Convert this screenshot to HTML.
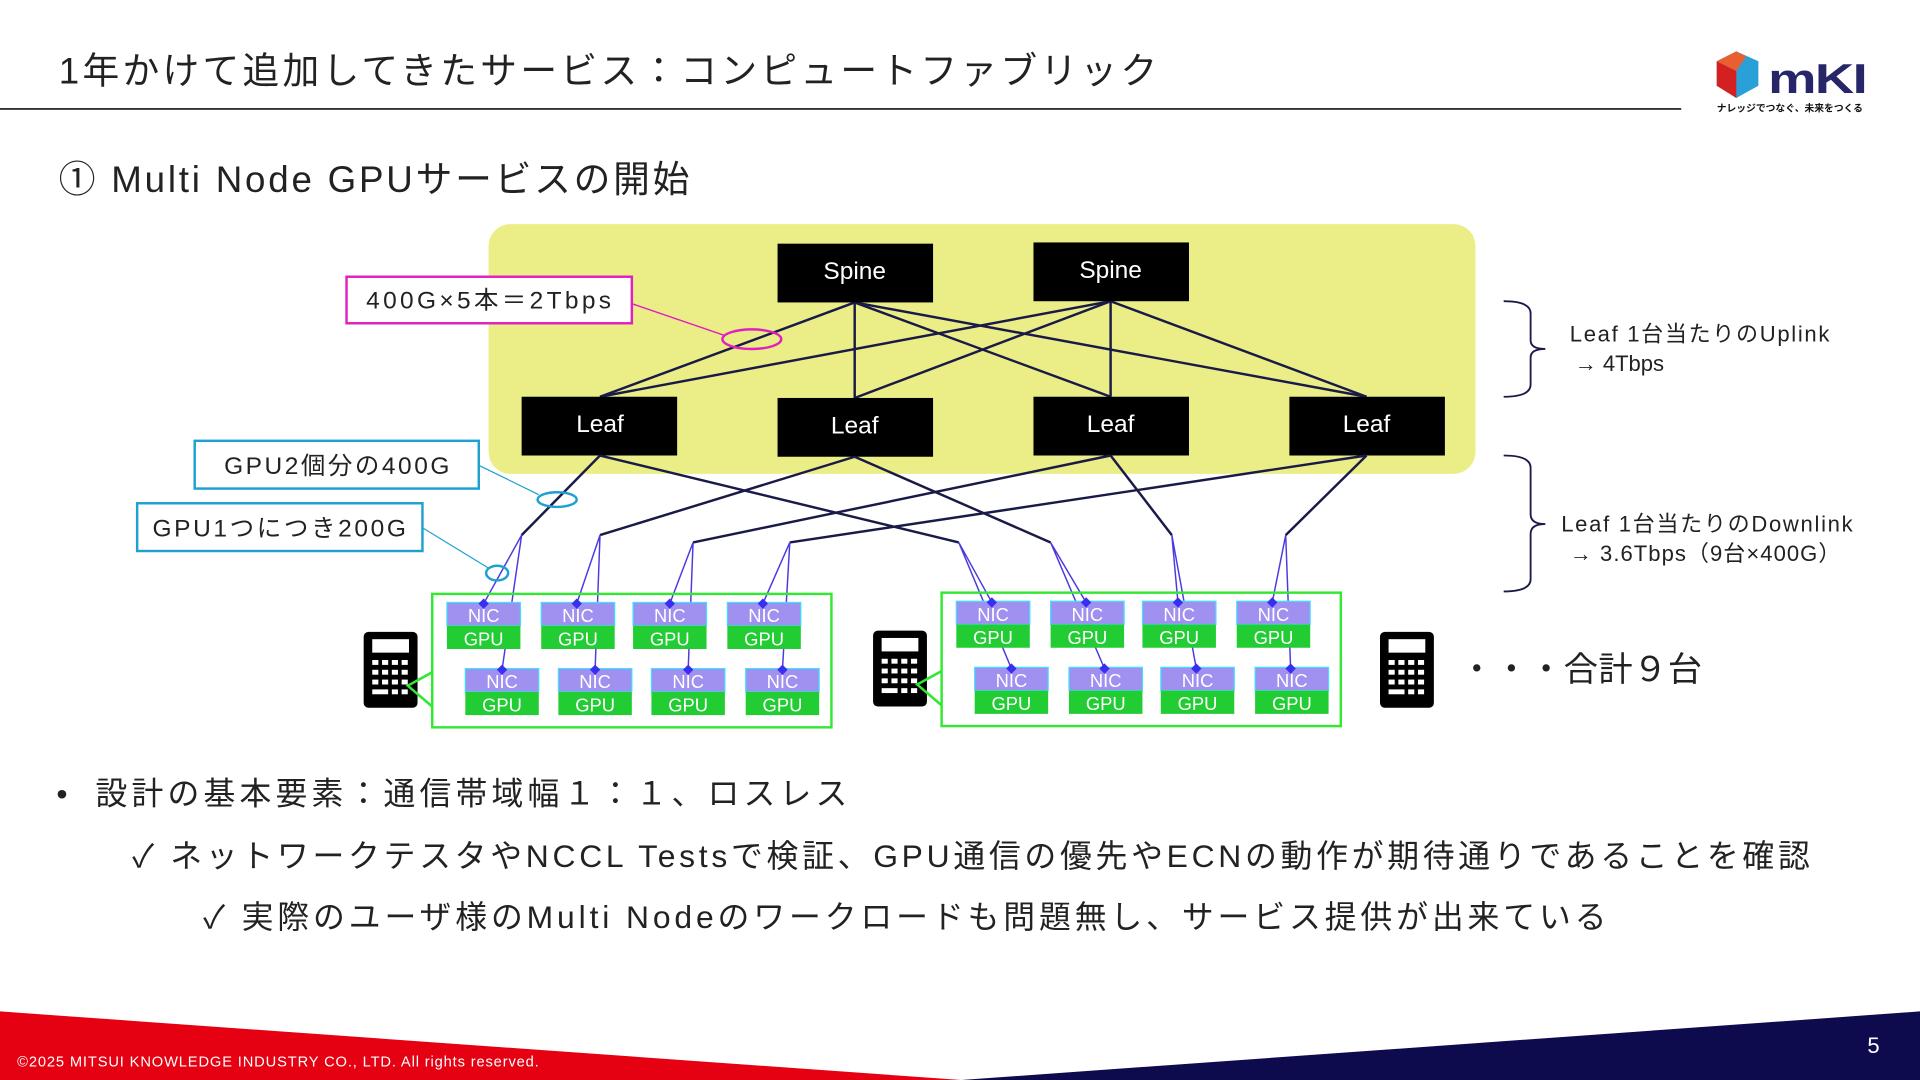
<!DOCTYPE html>
<html><head><meta charset="utf-8"><style>
html,body{margin:0;padding:0;background:#fff;}
svg{display:block;}
text{font-family:"Liberation Sans","Noto Sans CJK JP",sans-serif;}
</style></head><body>
<svg width="1920" height="1080" viewBox="0 0 1568 882" xmlns="http://www.w3.org/2000/svg">
<rect width="1568" height="882" fill="#fff"/>
<text x="48" y="68" font-size="30" fill="#222" textLength="897" lengthAdjust="spacing">1年かけて追加してきたサービス：コンピュートファブリック</text>
<line x1="0" y1="89" x2="1373" y2="89" stroke="#333" stroke-width="1.5"/>
<polygon points="1402,50 1418,42 1436,50 1436,70 1418,80 1402,70" fill="#2aa0d8"/>
<polygon points="1402,50 1418,58 1418,80 1402,70" fill="#d42020"/>
<polygon points="1402,50 1418,42 1426,46 1418,58" fill="#e86030"/>
<text x="1444" y="76" font-size="34" font-weight="bold" fill="#262668" letter-spacing="-1" textLength="80" lengthAdjust="spacingAndGlyphs">mKI</text>
<text x="1402" y="91" font-size="8" fill="#111" font-weight="bold">ナレッジでつなぐ、未来をつくる</text>
<text x="48" y="157" font-size="30" fill="#222" textLength="515" lengthAdjust="spacing">① Multi Node GPUサービスの開始</text>
<rect x="399" y="183" width="806" height="204" rx="18" fill="#ebee87"/>
<g stroke="#1a1a48" stroke-width="2">
<line x1="698" y1="247" x2="490" y2="324"/><line x1="698" y1="247" x2="698" y2="325"/>
<line x1="698" y1="247" x2="907" y2="324"/><line x1="698" y1="247" x2="1116" y2="324"/>
<line x1="907" y1="246" x2="490" y2="324"/><line x1="907" y1="246" x2="698" y2="325"/>
<line x1="907" y1="246" x2="907" y2="324"/><line x1="907" y1="246" x2="1116" y2="324"/>
</g>
<g font-size="20" fill="#fff" text-anchor="middle">
<rect x="635" y="199" width="127" height="48" fill="#000"/><text x="698" y="228">Spine</text>
<rect x="844" y="198" width="127" height="48" fill="#000"/><text x="907" y="227">Spine</text>
<rect x="426" y="324" width="127" height="48" fill="#000"/><text x="490" y="353">Leaf</text>
<rect x="635" y="325" width="127" height="48" fill="#000"/><text x="698" y="354">Leaf</text>
<rect x="844" y="324" width="127" height="48" fill="#000"/><text x="907" y="353">Leaf</text>
<rect x="1053" y="324" width="127" height="48" fill="#000"/><text x="1116" y="353">Leaf</text>
</g>
<g stroke="#1a1a48" stroke-width="2" fill="none">
<polyline points="490,372 426,437"/><polyline points="490,372 783,443"/>
<polyline points="698,373 490,437"/><polyline points="698,373 858,443"/>
<polyline points="907,372 566,443"/><polyline points="907,372 957,437"/>
<polyline points="1116,372 645,443"/><polyline points="1116,372 1050,437"/>
</g>
<g stroke="#4a3ae0" stroke-width="1.2" fill="none">
<polyline points="395,493 426,437 410,547"/>
<polyline points="471,493 490,437 486,547"/>
<polyline points="547,493 566,443 562,547"/>
<polyline points="623,493 645,443 639,547"/>
<polyline points="810,492 783,443 826,546"/>
<polyline points="887,492 858,443 902,546"/>
<polyline points="962,492 957,437 977,546"/>
<polyline points="1039,492 1050,437 1054,546"/>
</g>
<g fill="none" stroke="#33e833" stroke-width="2">
<rect x="353" y="485" width="326" height="109"/>
<rect x="769" y="484" width="326" height="109"/>
<polyline points="353,549 333,560 353,577"/>
<polyline points="769,548 749,559 769,576"/>
</g>
<g font-size="15" fill="#fff" text-anchor="middle">
<rect x="365" y="492" width="60" height="19" fill="#a090f0" stroke="#40e0ff"/><rect x="365" y="511" width="60" height="19" fill="#22cc33"/><text x="395" y="508">NIC</text><text x="395" y="527">GPU</text>
<rect x="442" y="492" width="60" height="19" fill="#a090f0" stroke="#40e0ff"/><rect x="442" y="511" width="60" height="19" fill="#22cc33"/><text x="472" y="508">NIC</text><text x="472" y="527">GPU</text>
<rect x="517" y="492" width="60" height="19" fill="#a090f0" stroke="#40e0ff"/><rect x="517" y="511" width="60" height="19" fill="#22cc33"/><text x="547" y="508">NIC</text><text x="547" y="527">GPU</text>
<rect x="594" y="492" width="60" height="19" fill="#a090f0" stroke="#40e0ff"/><rect x="594" y="511" width="60" height="19" fill="#22cc33"/><text x="624" y="508">NIC</text><text x="624" y="527">GPU</text>
<rect x="380" y="546" width="60" height="19" fill="#a090f0" stroke="#40e0ff"/><rect x="380" y="565" width="60" height="19" fill="#22cc33"/><text x="410" y="562">NIC</text><text x="410" y="581">GPU</text>
<rect x="456" y="546" width="60" height="19" fill="#a090f0" stroke="#40e0ff"/><rect x="456" y="565" width="60" height="19" fill="#22cc33"/><text x="486" y="562">NIC</text><text x="486" y="581">GPU</text>
<rect x="532" y="546" width="60" height="19" fill="#a090f0" stroke="#40e0ff"/><rect x="532" y="565" width="60" height="19" fill="#22cc33"/><text x="562" y="562">NIC</text><text x="562" y="581">GPU</text>
<rect x="609" y="546" width="60" height="19" fill="#a090f0" stroke="#40e0ff"/><rect x="609" y="565" width="60" height="19" fill="#22cc33"/><text x="639" y="562">NIC</text><text x="639" y="581">GPU</text>
<rect x="781" y="491" width="60" height="19" fill="#a090f0" stroke="#40e0ff"/><rect x="781" y="510" width="60" height="19" fill="#22cc33"/><text x="811" y="507">NIC</text><text x="811" y="526">GPU</text>
<rect x="858" y="491" width="60" height="19" fill="#a090f0" stroke="#40e0ff"/><rect x="858" y="510" width="60" height="19" fill="#22cc33"/><text x="888" y="507">NIC</text><text x="888" y="526">GPU</text>
<rect x="933" y="491" width="60" height="19" fill="#a090f0" stroke="#40e0ff"/><rect x="933" y="510" width="60" height="19" fill="#22cc33"/><text x="963" y="507">NIC</text><text x="963" y="526">GPU</text>
<rect x="1010" y="491" width="60" height="19" fill="#a090f0" stroke="#40e0ff"/><rect x="1010" y="510" width="60" height="19" fill="#22cc33"/><text x="1040" y="507">NIC</text><text x="1040" y="526">GPU</text>
<rect x="796" y="545" width="60" height="19" fill="#a090f0" stroke="#40e0ff"/><rect x="796" y="564" width="60" height="19" fill="#22cc33"/><text x="826" y="561">NIC</text><text x="826" y="580">GPU</text>
<rect x="873" y="545" width="60" height="19" fill="#a090f0" stroke="#40e0ff"/><rect x="873" y="564" width="60" height="19" fill="#22cc33"/><text x="903" y="561">NIC</text><text x="903" y="580">GPU</text>
<rect x="948" y="545" width="60" height="19" fill="#a090f0" stroke="#40e0ff"/><rect x="948" y="564" width="60" height="19" fill="#22cc33"/><text x="978" y="561">NIC</text><text x="978" y="580">GPU</text>
<rect x="1025" y="545" width="60" height="19" fill="#a090f0" stroke="#40e0ff"/><rect x="1025" y="564" width="60" height="19" fill="#22cc33"/><text x="1055" y="561">NIC</text><text x="1055" y="580">GPU</text>
</g>
<g fill="#3a2ef0">
<rect x="392" y="490" width="6" height="6" transform="rotate(45 395 493)"/>
<rect x="468" y="490" width="6" height="6" transform="rotate(45 471 493)"/>
<rect x="544" y="490" width="6" height="6" transform="rotate(45 547 493)"/>
<rect x="620" y="490" width="6" height="6" transform="rotate(45 623 493)"/>
<rect x="407" y="544" width="6" height="6" transform="rotate(45 410 547)"/>
<rect x="483" y="544" width="6" height="6" transform="rotate(45 486 547)"/>
<rect x="559" y="544" width="6" height="6" transform="rotate(45 562 547)"/>
<rect x="636" y="544" width="6" height="6" transform="rotate(45 639 547)"/>
<rect x="807" y="489" width="6" height="6" transform="rotate(45 810 492)"/>
<rect x="884" y="489" width="6" height="6" transform="rotate(45 887 492)"/>
<rect x="959" y="489" width="6" height="6" transform="rotate(45 962 492)"/>
<rect x="1036" y="489" width="6" height="6" transform="rotate(45 1039 492)"/>
<rect x="823" y="543" width="6" height="6" transform="rotate(45 826 546)"/>
<rect x="899" y="543" width="6" height="6" transform="rotate(45 902 546)"/>
<rect x="974" y="543" width="6" height="6" transform="rotate(45 977 546)"/>
<rect x="1051" y="543" width="6" height="6" transform="rotate(45 1054 546)"/>
</g>
<g id="srv">
<rect x="297" y="516" width="44" height="62" rx="4" fill="#000"/>
<rect x="304" y="522" width="30" height="11" fill="#fff"/>
<g fill="#fff">
<rect x="304" y="539" width="5" height="4"/><rect x="312" y="539" width="5" height="4"/><rect x="320" y="539" width="5" height="4"/><rect x="328" y="539" width="5" height="4"/>
<rect x="304" y="547" width="5" height="4"/><rect x="312" y="547" width="5" height="4"/><rect x="320" y="547" width="5" height="4"/><rect x="328" y="547" width="5" height="4"/>
<rect x="304" y="555" width="5" height="4"/><rect x="312" y="555" width="5" height="4"/><rect x="320" y="555" width="5" height="4"/><rect x="328" y="555" width="5" height="4"/>
<rect x="304" y="563" width="13" height="4"/><rect x="320" y="563" width="5" height="4"/><rect x="328" y="563" width="5" height="4"/>
</g>
</g>
<use href="#srv" x="416" y="-1"/>
<use href="#srv" x="830" y="0"/>
<g fill="none" stroke="#33e833" stroke-width="2">
<polyline points="353,549 333,560 353,577"/>
<polyline points="769,548 749,559 769,576"/>
</g>
<text x="1192" y="556" font-size="28" fill="#222" textLength="198" lengthAdjust="spacing">・・・合計９台</text>
<rect x="283" y="226" width="233" height="38" fill="#fff" stroke="#e020c0" stroke-width="2"/>
<text x="399" y="252" font-size="20" fill="#222" text-anchor="middle" textLength="200" lengthAdjust="spacing">400G×5本＝2Tbps</text>
<line x1="516" y1="248" x2="592" y2="274" stroke="#e020c0" stroke-width="1.2"/>
<ellipse cx="614" cy="277" rx="24" ry="8" fill="none" stroke="#e020c0" stroke-width="2"/>
<rect x="159" y="360" width="232" height="39" fill="#fff" stroke="#1ea0d0" stroke-width="2"/>
<text x="275" y="387" font-size="20" fill="#222" text-anchor="middle" textLength="184" lengthAdjust="spacing">GPU2個分の400G</text>
<rect x="112" y="411" width="233" height="39" fill="#fff" stroke="#1ea0d0" stroke-width="2"/>
<text x="228" y="438" font-size="20" fill="#222" text-anchor="middle" textLength="207" lengthAdjust="spacing">GPU1つにつき200G</text>
<line x1="391" y1="380" x2="440" y2="404" stroke="#1ea0d0" stroke-width="1"/>
<ellipse cx="455" cy="408" rx="16" ry="6" fill="none" stroke="#1ea0d0" stroke-width="2"/>
<line x1="345" y1="431" x2="399" y2="464" stroke="#1ea0d0" stroke-width="1"/>
<ellipse cx="406" cy="468" rx="9" ry="6" fill="none" stroke="#1ea0d0" stroke-width="2"/>
<g fill="none" stroke="#1a1a48" stroke-width="1.5">
<path d="M1228,246 Q1250,246 1250,256 L1250,278 Q1250,285 1262,285 Q1250,285 1250,292 L1250,314 Q1250,324 1228,324"/>
<path d="M1228,372 Q1250,372 1250,382 L1250,420 Q1250,428 1262,428 Q1250,428 1250,436 L1250,473 Q1250,483 1228,483"/>
</g>
<g font-size="18" fill="#222">
<text x="1282" y="279" textLength="212" lengthAdjust="spacing">Leaf 1台当たりのUplink</text>
<text x="1286" y="303">→ 4Tbps</text>
<text x="1275" y="434" textLength="238" lengthAdjust="spacing">Leaf 1台当たりのDownlink</text>
<text x="1282" y="458" textLength="221" lengthAdjust="spacing">→ 3.6Tbps（9台×400G）</text>
</g>
<g font-size="26" fill="#222">
<text x="46" y="657">•</text>
<text x="78" y="657" textLength="614" lengthAdjust="spacing">設計の基本要素：通信帯域幅１：１、ロスレス</text>
<text x="108" y="708" textLength="1370" lengthAdjust="spacing">✓ ネットワークテスタやNCCL Testsで検証、GPU通信の優先やECNの動作が期待通りであることを確認</text>
<text x="166" y="758" textLength="1146" lengthAdjust="spacing">✓ 実際のユーザ様のMulti Nodeのワークロードも問題無し、サービス提供が出来ている</text>
</g>
<polygon points="0,826 785,882 0,882" fill="#e50012"/>
<polygon points="785,882 1568,826 1568,882" fill="#0e0a4e"/>
<text x="14" y="871" font-size="12" fill="#fff" textLength="426" lengthAdjust="spacing">©2025 MITSUI KNOWLEDGE INDUSTRY CO., LTD. All rights reserved.</text>
<text x="1525" y="860" font-size="18" fill="#fff">5</text>
</svg>
</body></html>
